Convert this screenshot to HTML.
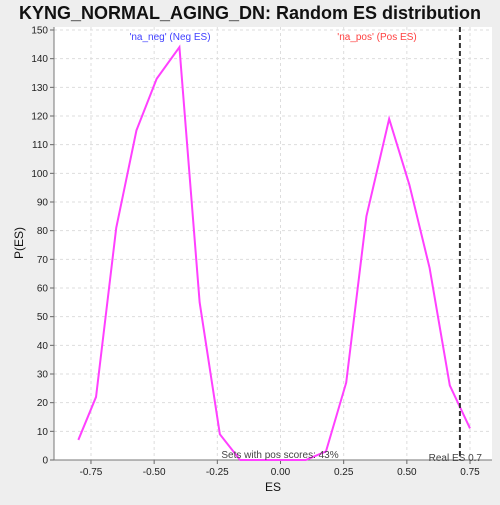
<!DOCTYPE html>
<html><head><meta charset="utf-8"><style>
body{margin:0;background:#eeeeee;font-family:"Liberation Sans","DejaVu Sans",sans-serif}
</style></head><body>
<svg width="500" height="500" xmlns="http://www.w3.org/2000/svg">
<text x="250" y="19" text-anchor="middle" font-size="18" font-weight="bold" fill="#111">KYNG_NORMAL_AGING_DN: Random ES distribution</text>
<rect x="54" y="27" width="438" height="433" fill="#fff"/>
<g id="grid"></g><g id="axes"></g><g id="marks"></g>
<text x="170" y="40" text-anchor="middle" font-size="10" fill="#4040ff">'na_neg' (Neg ES)</text>
<text x="377" y="40" text-anchor="middle" font-size="10" fill="#ff4040">'na_pos' (Pos ES)</text>
<text x="280" y="458" text-anchor="middle" font-size="10" fill="#444">Sets with pos scores: 43%</text>
<text x="482" y="461" text-anchor="end" font-size="10" fill="#444">Real ES 0.7</text>
<text x="273" y="491" text-anchor="middle" font-size="12" fill="#111">ES</text>
<text x="23" y="243" text-anchor="middle" font-size="12" fill="#111" transform="rotate(-90 23 243)">P(ES)</text>
</svg>
<script>
const esValues=[-0.80,-0.73,-0.65,-0.57,-0.49,-0.40,-0.32,-0.24,-0.16,-0.08,0.02,0.10,0.18,0.26,0.34,0.43,0.51,0.59,0.67,0.75];
const pValues=[7,22,81,115,133,144,55,9,0,0,0,0,3,27,85,119,96,67,26,11];
const xTicks=[-0.75,-0.5,-0.25,0,0.25,0.5,0.75];
const xTickLabels=["-0.75","-0.50","-0.25","0.00","0.25","0.50","0.75"];
const yTicks=[0,10,20,30,40,50,60,70,80,90,100,110,120,130,140,150];
const realES=[0.71];
const NS="http://www.w3.org/2000/svg";
const X=v=>280.5+v*252.7, Y=v=>460-v*430/150;
function mk(t,a,p){const e=document.createElementNS(NS,t);for(const k in a)e.setAttribute(k,a[k]);p.appendChild(e);return e;}
const g=document.getElementById('grid'),ax=document.getElementById('axes'),m=document.getElementById('marks');
xTicks.forEach((v,i)=>{
 const l=mk('line',{x1:X(v),x2:X(v),y1:27,y2:460,stroke:'#ddd','stroke-dasharray':'3,3'},g);
 
 mk('line',{x1:X(v),x2:X(v),y1:460,y2:464,stroke:'#666'},ax);
 const t=mk('text',{x:X(v),y:475,'text-anchor':'middle','font-size':'10',fill:'#222'},ax);t.textContent=xTickLabels[i];
 
});
yTicks.forEach(v=>{
 const l=mk('line',{x1:54,x2:492,y1:Y(v),y2:Y(v),stroke:'#ddd','stroke-dasharray':'3,3'},g);
 
 mk('line',{x1:50,x2:54,y1:Y(v),y2:Y(v),stroke:'#666'},ax);
 const t=mk('text',{x:48,y:Y(v)+3.5,'text-anchor':'end','font-size':'10',fill:'#222'},ax);t.textContent=v;
 
});
const a1=mk('line',{x1:54,x2:54,y1:27,y2:460,stroke:'#777'},ax);

const a2=mk('line',{x1:54,x2:492,y1:460,y2:460,stroke:'#777'},ax);

const pl=mk('polyline',{points:esValues.map((v,i)=>X(v)+','+Y(pValues[i])).join(' '),fill:'none',stroke:'#ff40ff','stroke-width':2},m);

realES.forEach(v=>{const l=mk('line',{x1:X(v),x2:X(v),y1:27,y2:460,stroke:'#333','stroke-width':2,'stroke-dasharray':'5,3'},m);
 });
</script>
</body></html>
